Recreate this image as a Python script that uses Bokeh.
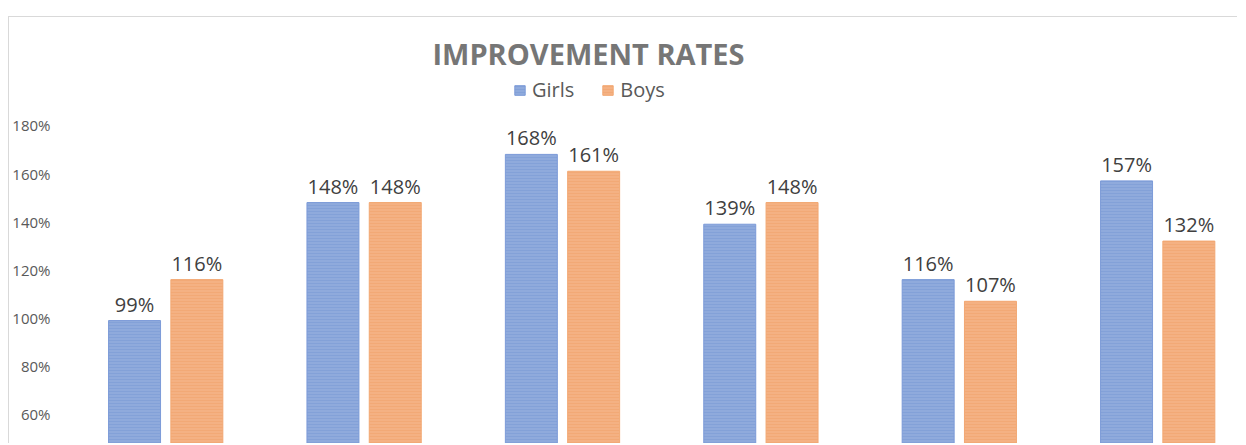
from bokeh.plotting import figure
from bokeh.models import (ColumnDataSource, Range1d, FixedTicker, PrintfTickFormatter,
                          Legend, LegendItem, LabelSet, Label)
from bokeh.core.properties import value
from bokeh.transform import dodge
from bokeh.embed import file_html
from bokeh.resources import INLINE

# ---- data ----
categories = ["Group 1", "Group 2", "Group 3", "Group 4", "Group 5", "Group 6"]
girls = [99, 148, 168, 139, 116, 157]
boys = [116, 148, 161, 148, 107, 132]
y_ticks = [40, 60, 80, 100, 120, 140, 160, 180]
title_text = "IMPROVEMENT RATES"
series_names = ["Girls", "Boys"]

FONT = "Open Sans"

src = ColumnDataSource(dict(
    x=list(range(len(categories))),
    cat=categories,
    girls=girls,
    boys=boys,
    girls_lbl=[f"{v}%" for v in girls],
    boys_lbl=[f"{v}%" for v in boys],
))

W = 1229
H = 427
frame_px = W - 57
cat_px = 198.4
p = figure(width=W, height=H, output_backend="svg", toolbar_location=None,
           x_range=Range1d(-0.5, -0.5 + frame_px / cat_px),
           y_range=Range1d(180 - (H - 108) / 2.408, 224.85),
           x_axis_location=None, min_border_left=57, min_border_right=0,
           min_border_top=0, min_border_bottom=0)
p.styles = {"margin-top": "16px", "margin-left": "8px",
            "border-top": "1px solid #d9d9d9", "border-left": "1px solid #d9d9d9"}
p.outline_line_color = None
p.grid.visible = False
p.background_fill_color = "white"
p.border_fill_color = "white"

bw = 0.262
off = 0.157
rg = p.vbar(x=dodge("x", -off, range=p.x_range), top="girls", bottom=0, width=bw, source=src,
            fill_color="#8FAADC", line_color="#7C9BD8", line_width=1,
            hatch_pattern="horizontal_line", hatch_color="#6E8ED2", hatch_alpha=0.35,
            hatch_scale=3, hatch_weight=1)
rb = p.vbar(x=dodge("x", off, range=p.x_range), top="boys", bottom=0, width=bw, source=src,
            fill_color="#F4B183", line_color="#F2A873", line_width=1,
            hatch_pattern="horizontal_line", hatch_color="#EE9A5E", hatch_alpha=0.35,
            hatch_scale=3, hatch_weight=1)

for col, lbl, d in (("girls", "girls_lbl", -off), ("boys", "boys_lbl", off)):
    ls = LabelSet(x=dodge("x", d, range=p.x_range), y=col, text=lbl, source=src,
                  text_align="center", text_baseline="alphabetic", y_offset=9,
                  text_font=value(FONT), text_font_size=value("20px"),
                  text_color="#404040")
    p.add_layout(ls)

# y axis
ax = p.yaxis[0]
ax.ticker = FixedTicker(ticks=y_ticks)
ax.formatter = PrintfTickFormatter(format="%d%%")
ax.axis_line_color = None
ax.major_tick_line_color = None
ax.minor_tick_line_color = None
ax.major_tick_out = 0
ax.major_tick_in = 0
ax.major_label_standoff = 16
ax.major_label_text_font = FONT
ax.major_label_text_font_size = "15px"
ax.major_label_text_color = "#595959"

# title
p.add_layout(Label(x=2.131, y=209.8, text=title_text, text_align="center",
                   text_baseline="middle", text_font=FONT, text_font_size="29px",
                   text_font_style="bold", text_color="#767676"))

# legend
legend = Legend(items=[LegendItem(label=series_names[0], renderers=[rg]),
                       LegendItem(label=series_names[1], renderers=[rb])],
                orientation="horizontal", location=(447, H - 86),
                glyph_width=13, glyph_height=12, label_standoff=6, spacing=27,
                padding=0, margin=0, border_line_color=None, background_fill_alpha=0,
                label_text_font=FONT, label_text_font_size="20px",
                label_text_color="#595959")
p.add_layout(legend)

open("out.html", "w").write(file_html(p, INLINE))
